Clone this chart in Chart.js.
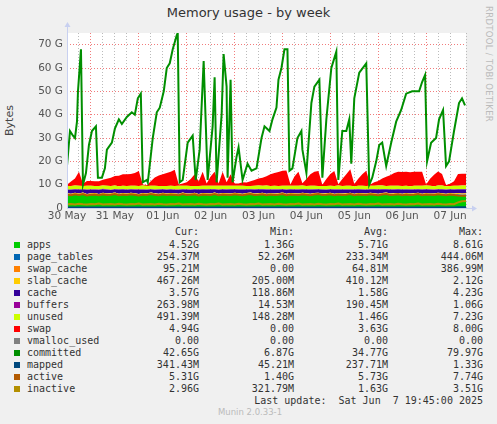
<!DOCTYPE html>
<html><head><meta charset="utf-8">
<script src="https://cdn.jsdelivr.net/npm/chart.js@4/dist/chart.umd.min.js"></script>
<style>
body{margin:0;background:#f0f0f0;width:497px;height:424px;overflow:hidden;position:relative;font-family:"DejaVu Sans",sans-serif;}
#title{position:absolute;top:5px;left:0;width:497px;text-align:center;font-size:13px;color:#333;}
#ylab{position:absolute;left:-6px;top:114px;transform:rotate(-90deg);font-size:11px;color:#444;}
#rrd{position:absolute;left:484px;top:6px;writing-mode:vertical-rl;font-size:8.5px;color:#bbb;letter-spacing:0.3px;}
canvas{position:absolute;left:0;top:0;}
.lg{position:absolute;font-family:"DejaVu Sans Mono",monospace;font-size:10px;color:#333;white-space:pre;}
.sw{position:absolute;width:6px;height:6px;}
</style></head><body>
<div id="title">Memory usage - by week</div>
<div id="ylab">Bytes</div>
<div id="rrd">RRDTOOL / TOBI OETIKER</div>
<canvas id="c" width="497" height="225"></canvas>
<div id="legend"></div>
<script>
const hours=[0,2,4,6,8,10,12,14,16,18,20,22,24,26,28,30,32,34,36,38,40,42,44,46,48,50,52,54,56,58,60,62,64,66,68,70,72,74,76,78,80,82,84,86,88,90,92,94,96,98,100,102,104,106,108,110,112,114,116,118,120,122,124,126,128,130,132,134,136,138,140,142,144,146,148,150,152,154,156,158,160,162,164,166,168,170,172,174,176,178,180,182,184,186,188,190,192,194,196,198,200];
const apps=[5.6,5.4,5.8,5.5,5.9,5.3,5.6,5.7,5.4,5.8,5.5,5.6,5.9,5.4,5.7,5.5,5.8,5.6,5.3,5.7,5.5,5.9,5.6,5.4,5.8,5.5,5.7,5.6,5.4,5.9,5.5,5.6,5.8,5.3,5.7,5.6,5.5,5.9,5.4,5.7,5.6,5.5,5.8,5.6,5.4,5.7,5.9,5.5,5.6,5.8,5.4,5.7,5.5,5.6,5.9,5.4,5.7,5.6,5.5,5.8,5.6,5.4,5.7,5.9,5.5,5.6,5.8,5.4,5.7,5.5,5.6,5.9,5.4,5.7,5.6,5.5,5.8,5.6,5.4,5.7,5.9,5.5,5.6,5.8,5.4,5.7,5.5,5.6,5.9,5.4,5.7,5.6,5.5,5.8,5.6,5.4,5.7,5.5,5.6,5.4,5.5];
const pageTables=[0.23,0.22,0.24,0.23,0.25,0.22,0.23,0.24,0.22,0.23,0.25,0.23,0.22,0.24,0.23,0.22,0.25,0.23,0.24,0.22,0.23,0.24,0.23,0.22,0.25,0.23,0.24,0.22,0.23,0.24,0.23,0.22,0.25,0.23,0.24,0.22,0.23,0.24,0.23,0.22,0.25,0.23,0.24,0.22,0.23,0.24,0.23,0.22,0.25,0.23,0.24,0.22,0.23,0.24,0.23,0.22,0.25,0.23,0.24,0.22,0.23,0.24,0.23,0.22,0.25,0.23,0.24,0.22,0.23,0.24,0.23,0.22,0.25,0.23,0.24,0.22,0.23,0.24,0.23,0.22,0.25,0.23,0.24,0.22,0.23,0.24,0.23,0.22,0.25,0.23,0.24,0.22,0.23,0.24,0.23,0.22,0.25,0.23,0.24,0.25,0.25];
const swapCache=[0.05,0.06,0.04,0.07,0.06,0.05,0.08,0.06,0.05,0.07,0.06,0.04,0.06,0.07,0.05,0.06,0.08,0.05,0.06,0.07,0.05,0.06,0.04,0.07,0.06,0.05,0.08,0.06,0.05,0.07,0.06,0.04,0.06,0.07,0.05,0.06,0.08,0.05,0.06,0.07,0.05,0.06,0.04,0.07,0.06,0.05,0.08,0.06,0.05,0.07,0.06,0.04,0.06,0.07,0.05,0.06,0.08,0.05,0.06,0.07,0.05,0.06,0.04,0.07,0.06,0.05,0.08,0.06,0.05,0.07,0.06,0.04,0.06,0.07,0.05,0.06,0.08,0.05,0.06,0.07,0.05,0.06,0.04,0.07,0.06,0.05,0.08,0.06,0.05,0.07,0.06,0.04,0.06,0.07,0.05,0.06,0.08,0.05,0.09,0.1,0.1];
const slabCache=[0.41,0.4,0.43,0.39,0.42,0.4,0.41,0.44,0.38,0.42,0.41,0.4,0.43,0.39,0.42,0.4,0.41,0.44,0.38,0.42,0.41,0.4,0.43,0.39,0.42,0.4,0.41,0.44,0.38,0.42,0.41,0.4,0.43,0.39,0.42,0.4,0.41,0.44,0.38,0.42,0.41,0.4,0.43,0.39,0.42,0.4,0.41,0.44,0.38,0.42,0.41,0.4,0.43,0.39,0.42,0.4,0.41,0.44,0.38,0.42,0.41,0.4,0.43,0.39,0.42,0.4,0.41,0.44,0.38,0.42,0.41,0.4,0.43,0.39,0.42,0.4,0.41,0.44,0.38,0.42,0.41,0.4,0.43,0.39,0.42,0.4,0.41,0.44,0.38,0.42,0.41,0.4,0.43,0.39,0.42,0.4,0.41,0.44,0.45,0.46,0.47];
const cache=[1.5,1.7,1.4,1.6,1.3,1.8,1.5,1.4,1.7,1.5,1.6,1.4,1.3,1.7,1.5,1.6,1.4,1.5,1.8,1.4,1.6,1.3,1.5,1.7,1.4,1.6,1.5,1.4,1.7,1.3,1.6,1.5,1.4,1.8,1.5,1.6,1.7,1.3,1.6,1.5,1.5,1.7,1.4,1.5,1.7,1.5,1.3,1.6,1.6,1.4,1.7,1.5,1.6,1.5,1.3,1.7,1.5,1.5,1.6,1.4,1.6,1.7,1.5,1.3,1.6,1.5,1.4,1.7,1.5,1.6,1.5,1.3,1.7,1.5,1.5,1.6,1.4,1.6,1.7,1.5,1.3,1.6,1.5,1.4,1.7,1.5,1.6,1.5,1.3,1.7,1.5,1.6,1.5,1.4,1.6,1.7,1.5,1.6,1.5,1.7,1.6];
const buffers=[0.19,0.2,0.18,0.21,0.19,0.17,0.2,0.19,0.22,0.18,0.19,0.2,0.18,0.21,0.19,0.17,0.2,0.19,0.22,0.18,0.19,0.2,0.18,0.21,0.19,0.17,0.2,0.19,0.22,0.18,0.19,0.2,0.18,0.21,0.19,0.17,0.2,0.19,0.22,0.18,0.19,0.2,0.18,0.21,0.19,0.17,0.2,0.19,0.22,0.18,0.19,0.2,0.18,0.21,0.19,0.17,0.2,0.19,0.22,0.18,0.19,0.2,0.18,0.21,0.19,0.17,0.2,0.19,0.22,0.18,0.19,0.2,0.18,0.21,0.19,0.17,0.2,0.19,0.22,0.18,0.19,0.2,0.18,0.21,0.19,0.17,0.2,0.19,0.22,0.18,0.19,0.2,0.18,0.21,0.19,0.17,0.2,0.19,0.25,0.26,0.26];
const unused=[1.5,1.4,1.5,1.5,1.3,1.6,1.5,1.4,1.5,1.4,1.5,1.6,1.6,1.3,1.4,1.5,1.4,1.5,1.4,1.6,1.5,1.4,1.6,1.4,1.3,1.5,1.4,1.5,1.6,1.4,1.5,1.5,1.3,1.4,1.4,1.5,1.4,1.4,1.6,1.4,1.5,1.4,1.4,1.5,1.5,1.4,1.3,1.5,1.5,1.4,1.6,1.4,1.5,1.4,1.4,1.6,1.4,1.5,1.5,1.5,1.4,1.5,1.5,1.3,1.4,1.5,1.4,1.4,1.6,1.4,1.5,1.5,1.3,1.4,1.5,1.5,1.4,1.4,1.6,1.5,1.3,1.5,1.5,1.4,1.4,1.5,1.3,1.5,1.4,1.5,1.5,1.5,1.4,1.5,1.5,1.4,1.3,1.5,1.4,1.5,1.5];
const swap=[0.5,2,3,6,1,2,2,2,2,2.5,3,3.5,4,4.5,5,5,5,5.5,6.5,0.5,0.3,2,3.5,4.5,5,5.5,6,7,0.5,1,1.5,3,5,2,6,1,4,6,1,6,1.5,5,1,1,1.5,1.5,2,2.5,3,3.5,4,5,5.5,6,6.5,6.5,0.5,4,6,1,3,5,6,6.5,0.5,3,5,6.5,0.5,3,5,7,1,3,5,6.5,0.5,1.5,2,3,4,4.5,5.5,6,6,6,6,6,6,6,0.5,3,5,6,5,0.5,1,2,5,5,5];
const active=[5.7,5.5,5.9,5.6,6.0,5.4,5.7,5.8,5.5,5.9,5.6,5.7,6.0,5.5,5.8,5.6,5.9,5.7,5.4,5.8,5.6,6.0,5.7,5.5,5.9,5.6,5.8,5.7,5.5,6.0,5.6,5.7,5.9,5.4,5.8,5.7,5.6,6.0,5.5,5.8,5.7,5.6,5.9,5.7,5.5,5.8,6.0,5.6,5.7,5.9,5.5,5.8,5.6,5.7,6.0,5.5,5.8,5.7,5.6,5.9,5.7,5.5,5.8,6.0,5.6,5.7,5.9,5.5,5.8,5.6,5.7,6.0,5.5,5.8,5.7,5.6,5.9,5.7,5.5,5.8,6.0,5.6,5.7,5.9,5.5,5.8,5.6,5.7,6.0,5.5,5.8,5.7,5.6,5.9,5.7,5.5,5.8,5.6,5.4,5.3,5.3];
const inactive=[1.6,1.7,1.5,1.8,1.6,1.5,1.7,1.6,1.9,1.5,1.6,1.7,1.5,1.8,1.6,1.5,1.7,1.6,1.9,1.5,1.6,1.7,1.5,1.8,1.6,1.5,1.7,1.6,1.9,1.5,1.6,1.7,1.5,1.8,1.6,1.5,1.7,1.6,1.9,1.5,1.6,1.7,1.5,1.8,1.6,1.5,1.7,1.6,1.9,1.5,1.6,1.7,1.5,1.8,1.6,1.5,1.7,1.6,1.9,1.5,1.6,1.7,1.5,1.8,1.6,1.5,1.7,1.6,1.9,1.5,1.6,1.7,1.5,1.8,1.6,1.5,1.7,1.6,1.9,1.5,1.6,1.7,1.5,1.8,1.6,1.5,1.7,1.6,1.9,1.5,1.6,1.7,1.5,1.8,1.6,1.5,1.7,1.6,2.4,2.9,3.0];
const mapped=[0.24,0.22,0.25,0.23,0.24,0.22,0.26,0.23,0.24,0.22,0.25,0.23,0.24,0.22,0.26,0.23,0.24,0.22,0.25,0.23,0.24,0.22,0.26,0.23,0.24,0.22,0.25,0.23,0.24,0.22,0.26,0.23,0.24,0.22,0.25,0.23,0.24,0.22,0.26,0.23,0.24,0.22,0.25,0.23,0.24,0.22,0.26,0.23,0.24,0.22,0.25,0.23,0.24,0.22,0.26,0.23,0.24,0.22,0.25,0.23,0.24,0.22,0.26,0.23,0.24,0.22,0.25,0.23,0.24,0.22,0.26,0.23,0.24,0.22,0.25,0.23,0.24,0.22,0.26,0.23,0.24,0.22,0.25,0.23,0.24,0.22,0.26,0.23,0.24,0.22,0.25,0.23,0.24,0.22,0.26,0.23,0.24,0.22,0.3,0.33,0.34];
const committedHours=[0,1.5,3,4,5,5.5,6.5,7,8,9.5,11,12.5,14.5,15.5,17.5,19,20,22.5,24,26,27.5,30,32.5,34,35.5,37,38,40,40.5,43,45,46.5,48.5,50,51.5,53,55,55.5,56.5,58,60.5,63,64.5,66.5,68.5,70.5,73,74,75,77.5,78.5,80,80.5,82,83,85,86,88,90.5,92.5,95,97.5,99,101.5,103,105,106,107.5,109,110.5,111.5,113,115.5,117.5,118,120,122.5,124,126.5,128,130,132.5,135,136,138,140,141.5,142.5,144,146.5,150,151.5,153,155,156.5,158,160,162.5,165,167.5,170,173,176.5,178,179.5,180.5,182.5,185,186.5,188.5,190,191.5,194,196.5,198,199.5];
const committed=[18,33,31,30,37,50,62,68,10,15,27,33,35,13,13,17,25,28,34,38,36,39,41,40,47,49,11,12,11,30,41,43,50,60,62,68,74,75,11,12,28,31,12,25,63,12,35,56,11,40,66,52,13,55,11,22,26,12,19,16,17,30,35,33,38,43,55,60,68,68,16,17,30,33,25,15,45,52,55,13,38,60,67,12,33,33,38,19,47,58,62,10,13,20,27,28,18,28,37,42,49,50,50,54,57,20,28,30,38,42,18,20,33,45,47,44];
const dayLabels=["30 May","31 May","01 Jun","02 Jun","03 Jun","04 Jun","05 Jun","06 Jun","07 Jun"];
const yTickValues=[0,10,20,30,40,50,60,70];
const legendRows=[
["apps","#00cc00","4.52G","1.36G","5.71G","8.61G"],
["page_tables","#0066b3","254.37M","52.26M","233.34M","444.06M"],
["swap_cache","#ff8000","95.21M","0.00","64.81M","386.99M"],
["slab_cache","#ffcc00","467.26M","205.00M","410.12M","2.12G"],
["cache","#330099","3.57G","118.86M","1.58G","4.23G"],
["buffers","#990099","263.98M","14.53M","190.45M","1.06G"],
["unused","#ccff00","491.39M","148.28M","1.46G","7.23G"],
["swap","#ff0000","4.94G","0.00","3.63G","8.00G"],
["vmalloc_used","#808080","0.00","0.00","0.00","0.00"],
["committed","#008f00","42.65G","6.87G","34.77G","79.97G"],
["mapped","#00487d","341.43M","45.21M","237.71M","1.33G"],
["active","#b35a00","5.31G","1.40G","5.73G","7.74G"],
["inactive","#b38f00","2.96G","321.79M","1.63G","3.51G"]];

const pts=(xs,ys)=>xs.map((x,i)=>({x:x,y:ys[i]}));
const areaDefs=[[apps,"#00cc00"],[pageTables,"#0066b3"],[swapCache,"#ff8000"],[slabCache,"#ffcc00"],[cache,"#330099"],[buffers,"#990099"],[unused,"#ccff00"],[swap,"#ff0000"]];
const datasets=[];
areaDefs.forEach((d,i)=>datasets.push({data:pts(hours,d[0]),backgroundColor:d[1],borderColor:d[1],borderWidth:0,pointRadius:0,
  fill:{target:i===0?'origin':i-1,above:d[1],below:d[1]},stack:'mem',order:10}));
const lineDefs=[[hours,active,"#b35a00","a"],[hours,inactive,"#b38f00","i"],[hours,mapped,"#00487d","m"],[committedHours,committed,"#008f00","c"]];
lineDefs.forEach((d,i)=>datasets.push({data:pts(d[0],d[1]),borderColor:d[2],backgroundColor:d[2],borderWidth:2,pointRadius:0,fill:false,stack:d[3],order:4-i,tension:0}));

const bg={id:'bg',beforeDraw(c){const a=c.chartArea,x=c.ctx;x.save();x.fillStyle='#fff';x.fillRect(a.left,a.top,a.right-a.left,a.bottom-a.top);x.restore();},
afterDraw(c){const a=c.chartArea,x=c.ctx;x.save();x.strokeStyle='#c8d0f0';x.lineWidth=1;x.beginPath();x.moveTo(a.left+0.5,a.bottom);x.lineTo(a.left+0.5,a.top-6);x.moveTo(a.left,a.bottom+0.5);x.lineTo(a.right+6,a.bottom+0.5);x.stroke();
x.fillStyle='#c8d0f0';x.beginPath();x.moveTo(a.left-2.5,a.top-6);x.lineTo(a.left+3.5,a.top-6);x.lineTo(a.left+0.5,a.top-11);x.fill();
x.beginPath();x.moveTo(a.right+6,a.bottom-2.5);x.lineTo(a.right+6,a.bottom+3.5);x.lineTo(a.right+11,a.bottom+0.5);x.fill();x.restore();}};

new Chart(document.getElementById('c'),{type:'line',data:{datasets},plugins:[bg],
options:{responsive:false,animation:false,devicePixelRatio:1,
layout:{padding:{top:33,right:31,left:0,bottom:0}},
plugins:{legend:{display:false},tooltip:{enabled:false},colors:{enabled:false}},
scales:{
x:{type:'linear',min:0,max:200,afterFit(s){s.height=17;},
ticks:{stepSize:6,autoSkip:false,maxRotation:0,color:'#555',font:{family:'DejaVu Sans',size:10.5},padding:2,
callback:(v)=>v%24===0?dayLabels[v/24]:''},
border:{display:false,dash:[1,2]},
grid:{drawTicks:false,color:(c)=>((c.tick.value-12)%24===0?'rgba(240,110,110,0.9)':'rgba(180,180,180,0.9)'),lineWidth:1},
},
y:{stacked:true,min:0,max:75,afterFit(s){s.width=67;},
afterBuildTicks(s){s.ticks=[0,5,10,15,20,25,30,35,40,45,50,55,60,65,70,75].map(v=>({value:v}));},
ticks:{color:'#555',font:{family:'DejaVu Sans',size:10.5},padding:4,
callback:(v)=>yTickValues.includes(v)?(v===0?'0':v+' G'):''},
border:{display:false,dash:[1,2]},
grid:{drawTicks:false,color:(c)=>(c.tick.value%10===0&&c.tick.value<75?'rgba(240,110,110,0.9)':'rgba(180,180,180,0.9)'),lineWidth:1}
}}}});
const L=document.getElementById('legend');
const head=[['Cur:',199],['Min:',294],['Avg:',388],['Max:',483]];
let h='';
head.forEach(([t,r])=>{h+=`<div class="lg" style="top:226px;right:${497-r}px">${t}</div>`;});
legendRows.forEach((row,i)=>{const y=239+i*12;
h+=`<div class="sw" style="left:14px;top:${y+3}px;background:${row[1]}"></div>`;
h+=`<div class="lg" style="left:27px;top:${y}px">${row[0]}</div>`;
[199,294,388,483].forEach((r,j)=>{h+=`<div class="lg" style="top:${y}px;right:${497-r}px">${row[2+j]}</div>`;});});
h+=`<div class="lg" style="top:395px;right:14px">Last update:  Sat Jun  7 19:45:00 2025</div>`;
h+=`<div class="lg" style="top:407px;left:218px;color:#bbb;font-size:8.5px;font-family:'DejaVu Sans',sans-serif">Munin 2.0.33-1</div>`;
L.innerHTML=h;
</script></body></html>
